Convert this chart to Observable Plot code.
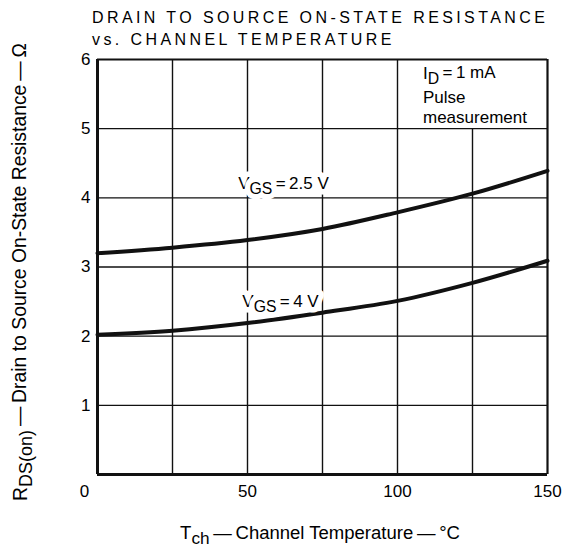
<!DOCTYPE html>
<html>
<head>
<meta charset="utf-8">
<script src="https://cdn.jsdelivr.net/npm/d3@7"></script>
<script src="https://cdn.jsdelivr.net/npm/@observablehq/plot@0.6"></script>
<style>
  html, body { margin: 0; padding: 0; background: #fff; }
  body { width: 563px; height: 553px; overflow: hidden; font-family: "Liberation Sans", Arial, sans-serif; }
  #title { height: 50px; position: relative; color: #000; }
  #title div { position: absolute; left: 92px; font-size: 16px; letter-spacing: 3.4px; white-space: nowrap; line-height: 1; }
  #t1 { top: 10px; }
  #t2 { top: 32px; }
  #chart svg { overflow: visible; }
</style>
</head>
<body>
<div id="title"><div id="t1">DRAIN TO SOURCE ON-STATE RESISTANCE</div><div id="t2">vs. CHANNEL TEMPERATURE</div></div>
<div id="chart"></div>
<script>
// ---- data ----
const temps = [0, 25, 50, 75, 100, 125, 150];
const rds_vgs25 = [3.2, 3.28, 3.39, 3.55, 3.79, 4.06, 4.39];
const rds_vgs4  = [2.02, 2.08, 2.19, 2.34, 2.51, 2.77, 3.09];
const seriesNames = ["V{GS}\u2009=\u20092.5 V", "V{GS}\u2009=\u20094 V"];
const seriesLabelX = [62, 61];
const seriesLabelY = [4.2, 2.5];
const xTicks = [0, 50, 100, 150];
const yTicks = [1, 2, 3, 4, 5, 6];
const xGrid = [25, 50, 75, 100, 125];
const yGrid = [1, 2, 3, 4, 5];
const noteLines = ["I{D}\u2009=\u20091 mA", "Pulse", "measurement"];
const noteY = [5.8, 5.45, 5.16];
const noteX = 108.5;
const xLabel = "T{ch}\u2009—\u2009Channel Temperature\u2009—\u2009°C";
const yLabel = "R{DS(on)}\u2009—\u2009Drain to Source On-State Resistance\u2009—\u2009Ω";

// ---- build tables ----
const curve25 = temps.map((t, i) => ({t, r: rds_vgs25[i]}));
const curve4 = temps.map((t, i) => ({t, r: rds_vgs4[i]}));
const seriesLabels = seriesNames.map((s, i) => ({s, x: seriesLabelX[i], y: seriesLabelY[i]}));
const notes = noteLines.map((s, i) => ({s, y: noteY[i]}));
// gridline at 125 stops at the annotation box
const xGridRows = xGrid.map(x => ({x, y2: x === 125 ? 5 : 6}));

const font = "Liberation Sans, Arial, sans-serif";

const chart = Plot.plot({
  width: 563,
  height: 503,
  marginTop: 9,
  marginBottom: 79,
  marginLeft: 97,
  marginRight: 16,
  style: {fontFamily: font, fontSize: "17px", color: "#000", background: "#fff", overflow: "visible"},
  x: {domain: [0, 150], axis: null},
  y: {domain: [0, 6], axis: null},
  marks: [
    Plot.ruleX(xGridRows, {x: "x", y1: 0, y2: "y2", stroke: "#111", strokeWidth: 1.4}),
    Plot.ruleY(yGrid, {stroke: "#111", strokeWidth: 1.4}),
    // frame
    Plot.ruleX([150], {stroke: "#111", strokeWidth: 2.2}),
    Plot.ruleY([6], {stroke: "#111", strokeWidth: 2.2}),
    Plot.ruleX([0], {stroke: "#111", strokeWidth: 3}),
    Plot.ruleY([0], {stroke: "#111", strokeWidth: 3}),
    // curves
    Plot.line(curve25, {x: "t", y: "r", curve: "catmull-rom", stroke: "#111", strokeWidth: 4}),
    Plot.line(curve4, {x: "t", y: "r", curve: "catmull-rom", stroke: "#111", strokeWidth: 4}),
    // series labels with white halo to interrupt gridlines
    Plot.text(seriesLabels, {x: "x", y: "y", text: "s", fontSize: 17, fill: "#000", stroke: "white", strokeWidth: 11, className: "sub"}),
    // note
    Plot.text(notes, {x: noteX, y: "y", text: "s", textAnchor: "start", fontSize: 17, fill: "#000", className: "sub"}),
    // tick labels
    Plot.text(yTicks, {x: 0, y: d => d, text: d => String(d), textAnchor: "end", dx: -7, fontSize: 17, fill: "#000"}),
    Plot.text(xTicks, {x: d => d, y: 0, text: d => String(d), dy: 17, fontSize: 17, fill: "#000", className: "xt"}),
    // axis labels
    Plot.text([xLabel], {frameAnchor: "bottom", textAnchor: "middle", dy: 61, fontSize: 17, fill: "#000", className: "sub xl"}),
    Plot.text([yLabel], {frameAnchor: "left", textAnchor: "middle", rotate: -90, dx: -75, fontSize: 17, fill: "#000", className: "sub yl"})
  ]
});
chart.style.overflow = "visible";
document.getElementById("chart").appendChild(chart);

// shift the "0" x tick to the left like the reference
d3.select(chart).selectAll("g.xt text").filter(function() { return this.textContent === "0"; })
  .attr("dx", -13);

// render {…} as subscripts
d3.select(chart).selectAll("g.sub text").each(function() {
  const el = d3.select(this);
  const txt = this.textContent;
  if (!txt.includes("{")) return;
  el.text(null);
  const parts = txt.split(/(\{[^}]*\})/).filter(p => p.length);
  let shifted = false;
  parts.forEach(p => {
    if (p.startsWith("{")) {
      el.append("tspan").attr("dy", "0.3em").attr("font-size", "0.93em").text(p.slice(1, -1));
      shifted = true;
    } else {
      const ts = el.append("tspan").text(p);
      if (shifted) { ts.attr("dy", "-0.3em"); shifted = false; }
    }
  });
});

// fit axis titles to the reference's length and centre
function fit(sel, len, cx, cy, vertical) {
  const node = d3.select(chart).select(sel).node();
  if (!node) return;
  let r = node.getBoundingClientRect();
  const cur = vertical ? r.height : r.width;
  const fs = 17 * len / cur;
  node.setAttribute("font-size", fs);
  r = node.getBoundingClientRect();
  const ddx = cx - (r.left + r.width / 2);
  const ddy = cy - (r.top + r.height / 2);
  const t = node.getAttribute("transform") || "";
  node.setAttribute("transform", `translate(${ddx},${ddy}) ` + t);
}
fit("g.xl text", 280, 320, 535, false);
fit("g.yl text", 458, 22, 272, true);
</script>
</body>
</html>
